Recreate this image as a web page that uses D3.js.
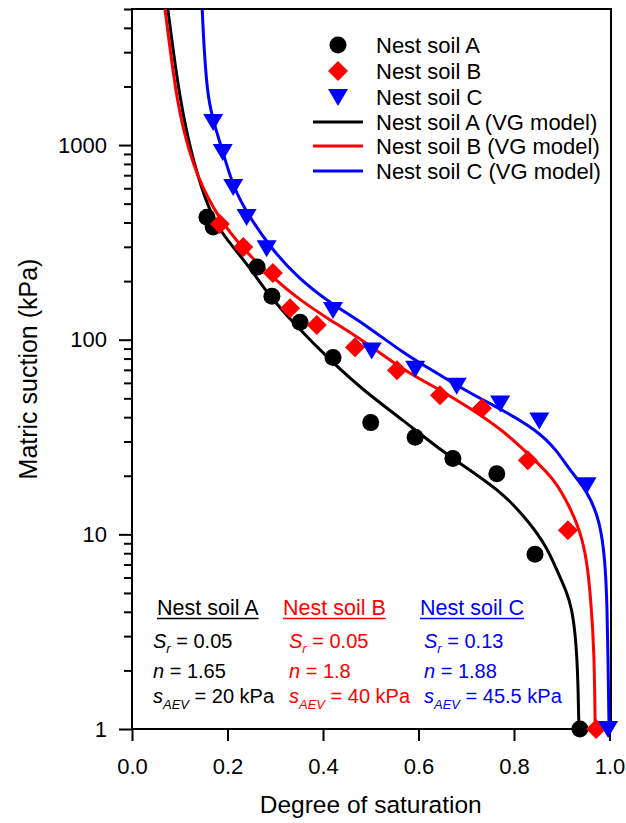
<!DOCTYPE html>
<html lang="en">
<head>
<meta charset="UTF-8">
<title>Soil water retention curves</title>
<script src="https://cdn.jsdelivr.net/npm/d3@7"></script>
<style>
  body { margin: 0; background: #fff; }
  text { font-family: Arial, "Liberation Sans", sans-serif; }
</style>
</head>
<body>
<script>
// tick labels
var satTicks = [0, 0.2, 0.4, 0.6, 0.8, 1.0];
var suctionTicks = [1, 10, 100, 1000];

// measured points [degree of saturation, suction kPa]
var soilA = [[0.157, 426], [0.170, 379], [0.262, 236], [0.293, 167], [0.352, 123],
             [0.421, 81], [0.500, 37.5], [0.593, 31.5], [0.672, 24.5], [0.764, 20.5],
             [0.844, 7.9], [0.938, 1]];
var soilB = [[0.184, 393], [0.233, 299], [0.295, 220], [0.331, 145], [0.387, 119],
             [0.467, 91.5], [0.555, 69.7], [0.645, 51.9], [0.733, 44.5], [0.829, 24],
             [0.913, 10.5], [0.972, 1]];
var soilC = [[0.170, 1313], [0.190, 920], [0.212, 608], [0.240, 427], [0.282, 295],
             [0.421, 142], [0.502, 88], [0.593, 71], [0.680, 58], [0.771, 47],
             [0.853, 38.5], [0.952, 17.9], [0.997, 1]];

// fitted VG curves
var vgA = [[0.075, 5000], [0.086, 3076], [0.101, 1702], [0.122, 942], [0.153, 521],
           [0.184, 357], [0.241, 247], [0.283, 173], [0.346, 116], [0.415, 78.5],
           [0.484, 55], [0.568, 38.5], [0.639, 28], [0.708, 21.3], [0.777, 16.3],
           [0.834, 11.4], [0.869, 8.57], [0.890, 6.53], [0.909, 5.15], [0.921, 4.22],
           [0.930, 2.85], [0.934, 1.77], [0.936, 1]];
var vgB = [[0.069, 5000], [0.080, 3076], [0.094, 1702], [0.117, 942], [0.157, 521],
           [0.220, 313], [0.283, 222], [0.346, 163], [0.415, 126], [0.484, 99.3],
           [0.568, 69.7], [0.639, 56.4], [0.708, 44.5], [0.777, 34.3], [0.844, 24],
           [0.886, 19], [0.917, 13.8], [0.938, 10.5], [0.953, 7.35], [0.961, 4.58],
           [0.968, 2.53], [0.970, 1]];
var vgC = [[0.147, 5000], [0.151, 3076], [0.159, 1702], [0.174, 1238], [0.191, 910],
           [0.212, 608], [0.241, 447], [0.289, 299], [0.346, 209], [0.415, 154],
           [0.484, 122], [0.568, 85.3], [0.639, 67.3], [0.708, 53.1], [0.777, 43.4],
           [0.848, 34.3], [0.890, 27], [0.917, 21.3], [0.953, 16.8], [0.980, 11.8],
           [0.991, 7.35], [0.995, 4.22], [0.997, 2.25], [0.999, 1]];

var legendNames = ["Nest soil A", "Nest soil B", "Nest soil C",
                   "Nest soil A (VG model)", "Nest soil B (VG model)", "Nest soil C (VG model)"];
var paramHeads = ["Nest soil A", "Nest soil B", "Nest soil C"];
var paramSr = ["0.05", "0.05", "0.13"];
var paramN = ["1.65", "1.8", "1.88"];
var paramAEV = ["20", "40", "45.5"];

var colors = ["#000000", "#ff0000", "#0000ff"];

var W = 626, H = 823;
var pL = 132, pR = 609.5, pT = 9, pB = 729, frameR = 611;

var svg = d3.select("body").append("svg")
  .attr("width", W).attr("height", H);

var x = d3.scaleLinear().domain([0, 1]).range([pL, pR]);
var y = d3.scaleLog().domain([1, 5000]).range([pB, pT]);

// frame
svg.append("rect")
  .attr("x", pL).attr("y", pT)
  .attr("width", frameR - pL).attr("height", pB - pT)
  .attr("fill", "none").attr("stroke", "#000").attr("stroke-width", 2);

// x axis
var xAxis = svg.append("g")
  .attr("transform", "translate(0," + pB + ")")
  .call(d3.axisBottom(x).tickValues(satTicks).tickFormat(d3.format(".1f"))
        .tickSize(12).tickPadding(17));
xAxis.select(".domain").remove();
xAxis.selectAll("line").attr("stroke-width", 2);
xAxis.selectAll("text").attr("font-size", 22).attr("fill", "#000")
  .style("font-family", "Arial, 'Liberation Sans', sans-serif");

// y axis
var minor = [];
suctionTicks.forEach(function(d) {
  for (var k = 2; k <= 9; k++) if (d * k <= 5000) minor.push(d * k);
});
var yMinor = svg.append("g")
  .attr("transform", "translate(" + pL + ",0)")
  .call(d3.axisLeft(y).tickValues(minor).tickFormat("").tickSize(8));
yMinor.select(".domain").remove();
yMinor.selectAll("line").attr("stroke-width", 2);

var yAxis = svg.append("g")
  .attr("transform", "translate(" + pL + ",0)")
  .call(d3.axisLeft(y).tickValues(suctionTicks).tickFormat(d3.format("d"))
        .tickSize(13).tickPadding(12));
yAxis.select(".domain").remove();
yAxis.selectAll("line").attr("stroke-width", 2);
yAxis.selectAll("text").attr("font-size", 22).attr("fill", "#000")
  .style("font-family", "Arial, 'Liberation Sans', sans-serif");

// axis titles
svg.append("text")
  .attr("x", (pL + pR) / 2).attr("y", 813)
  .attr("text-anchor", "middle").attr("font-size", 24.5)
  .text("Degree of saturation");
svg.append("text")
  .attr("transform", "translate(37," + (pT + pB) / 2 + ") rotate(-90)")
  .attr("text-anchor", "middle").attr("font-size", 25)
  .text("Matric suction (kPa)");

// curves
var line = d3.line()
  .x(function(d) { return x(d[0]); })
  .y(function(d) { return y(d[1]); })
  .curve(d3.curveBasis);

[vgA, vgB, vgC].forEach(function(c, i) {
  svg.append("path").datum(c)
    .attr("d", line)
    .attr("fill", "none")
    .attr("stroke", colors[i])
    .attr("stroke-width", 3);
});

// markers
function drawDiamond(g, cx, cy) {
  g.append("path")
    .attr("d", "M" + cx + "," + (cy - 10) + "L" + (cx + 10) + "," + cy +
               "L" + cx + "," + (cy + 10) + "L" + (cx - 10) + "," + cy + "Z")
    .attr("fill", colors[1]);
}
function drawTriangle(g, cx, cy) {
  g.append("path")
    .attr("d", "M" + (cx - 10) + "," + (cy - 8) + "L" + (cx + 10) + "," + (cy - 8) +
               "L" + cx + "," + (cy + 9) + "Z")
    .attr("fill", colors[2]);
}

var pts = svg.append("g");
pts.selectAll("circle").data(soilA).enter().append("circle")
  .attr("cx", function(d) { return x(d[0]); })
  .attr("cy", function(d) { return y(d[1]); })
  .attr("r", 8.5).attr("fill", colors[0]);
soilB.forEach(function(d) { drawDiamond(pts, x(d[0]), y(d[1])); });
soilC.forEach(function(d) { drawTriangle(pts, x(d[0]), y(d[1])); });

// legend
var legRows = [45, 71, 97, 122, 146, 171];
var leg = svg.append("g");
leg.append("circle").attr("cx", 338).attr("cy", legRows[0]).attr("r", 8.5).attr("fill", colors[0]);
drawDiamond(leg, 338, legRows[1]);
drawTriangle(leg, 338, legRows[2]);
for (var i = 0; i < 3; i++) {
  leg.append("line")
    .attr("x1", 313).attr("x2", 363)
    .attr("y1", legRows[3 + i]).attr("y2", legRows[3 + i])
    .attr("stroke", colors[i]).attr("stroke-width", 3);
}
leg.selectAll("text.leg").data(legendNames).enter().append("text")
  .attr("class", "leg")
  .attr("x", 376)
  .attr("y", function(d, i) { return legRows[i] + 7.8; })
  .attr("font-size", 22)
  .text(function(d) { return d; });

// parameter annotations
var headX = [157, 283, 420];
var valX = [153, 289, 424];
for (var j = 0; j < 3; j++) {
  var h = svg.append("text")
    .attr("x", headX[j]).attr("y", 615)
    .attr("font-size", 21.5).attr("fill", colors[j])
    .text(paramHeads[j]);
  var len = h.node().getComputedTextLength();
  svg.append("line")
    .attr("x1", headX[j]).attr("x2", headX[j] + len)
    .attr("y1", 618.5).attr("y2", 618.5)
    .attr("stroke", colors[j]).attr("stroke-width", 1.6);

  var t1 = svg.append("text").attr("x", valX[j]).attr("y", 648)
    .attr("font-size", 20).attr("fill", colors[j]);
  t1.append("tspan").attr("font-style", "italic").text("S");
  t1.append("tspan").attr("font-style", "italic").attr("font-size", 13)
    .attr("dy", 5).text("r");
  t1.append("tspan").attr("dy", -5).text(" = " + paramSr[j]);

  var t2 = svg.append("text").attr("x", valX[j]).attr("y", 678)
    .attr("font-size", 20).attr("fill", colors[j]);
  t2.append("tspan").attr("font-style", "italic").text("n");
  t2.append("tspan").text(" = " + paramN[j]);

  var t3 = svg.append("text").attr("x", valX[j]).attr("y", 703)
    .attr("font-size", 20).attr("fill", colors[j]);
  t3.append("tspan").attr("font-style", "italic").text("s");
  t3.append("tspan").attr("font-style", "italic").attr("font-size", 13)
    .attr("dy", 6).text("AEV");
  t3.append("tspan").attr("dy", -6).text(" = " + paramAEV[j] + " kPa");
}
</script>
</body>
</html>
